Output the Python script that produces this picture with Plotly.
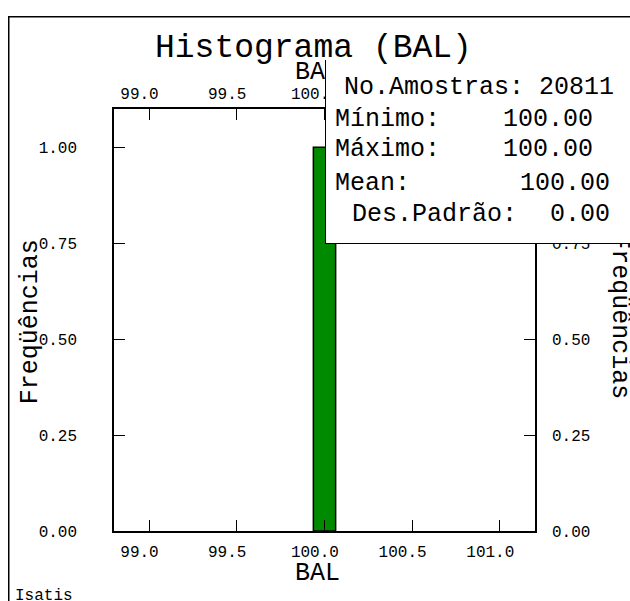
import plotly.graph_objects as go

# ---- data ----
bin_centers = [100.0]
frequencies = [1.0]
bin_width = 0.127
x_ticks = [99.0, 99.5, 100.0, 100.5, 101.0]
y_ticks = [0.0, 0.25, 0.5, 0.75, 1.0]
stats_labels = ["Mínimo:", "Máximo:", "Mean:", "Des.Padrão:"]
stats_values = ["100.00", "100.00", "100.00", "0.00"]
n_samples = 20811
variable = "BAL"

W, H = 630, 601
L, R, T, B = 114, 535, 108.5, 531
FONT = "Liberation Mono"
NB = "\u00a0"


def xp(px):
    return (px - L) / (R - L)


def yp(py):
    return (B - py) / (B - T)


x_ticktext = [f"{v:.1f}" + NB * 2 for v in x_ticks]
y_ticktext = [f"{v:.2f}" for v in y_ticks]

fig = go.Figure()
fig.add_trace(go.Bar(
    x=bin_centers, y=frequencies, width=bin_width,
    marker=dict(color="#008a00", line=dict(color="black", width=1.5)),
    showlegend=False, hoverinfo="skip",
))
fig.add_trace(go.Scatter(x=[], y=[], xaxis="x2", yaxis="y2", showlegend=False))

axis_common = dict(
    showgrid=False, zeroline=False, showline=True, linecolor="black",
    linewidth=1.5, ticks="inside", ticklen=11, tickwidth=1.2,
    tickcolor="black", tickfont=dict(family=FONT, size=16, color="black"),
)

fig.update_layout(
    width=W, height=H,
    margin=dict(l=L, r=W - R, t=T, b=H - B, pad=0),
    paper_bgcolor="white", plot_bgcolor="white",
    showlegend=False,
    xaxis=dict(range=[98.8, 101.2], tickmode="array", tickvals=x_ticks,
               ticktext=x_ticktext, ticklabelstandoff=5, **axis_common),
    xaxis2=dict(range=[98.8, 101.2], overlaying="x", side="top", matches="x",
                tickmode="array", tickvals=x_ticks, ticktext=x_ticktext,
                ticklabelstandoff=2, anchor="y", **axis_common),
    yaxis=dict(range=[0, 1.1], tickmode="array", tickvals=y_ticks,
               ticktext=y_ticktext, ticklabelstandoff=32, **axis_common),
    yaxis2=dict(range=[0, 1.1], overlaying="y", side="right", matches="y",
                tickmode="array", tickvals=y_ticks, ticktext=y_ticktext,
                ticklabelstandoff=12, anchor="x", **axis_common),
)

ann = []
# items later hidden partly by the statistics box
ann.append(dict(text="Freqüências", x=xp(620), y=yp(316), textangle=90,
                font=dict(family=FONT, size=25, color="black")))
ann.append(dict(text=variable, x=xp(317), y=yp(72),
                font=dict(family=FONT, size=25, color="black")))
# statistics box (white, covers the top-right region)
box_top, box_bottom, box_left = 60, 243, 325
ann.append(dict(text=NB, x=xp(box_left), y=yp(box_bottom), xanchor="left",
                yanchor="bottom", width=420, height=box_bottom - box_top,
                bgcolor="white", bordercolor="rgba(0,0,0,0)", borderwidth=0,
                borderpad=0, font=dict(size=8)))
# box left edge and bottom edge
ann.append(dict(text=NB, x=xp(box_left), y=yp(box_bottom), xanchor="center",
                yanchor="bottom", width=1, height=box_bottom - box_top,
                bgcolor="black", borderwidth=0, borderpad=0, font=dict(size=1)))
ann.append(dict(text=NB, x=xp(box_left - 0.5), y=yp(box_bottom), xanchor="left",
                yanchor="middle", width=420, height=1,
                bgcolor="black", borderwidth=0, borderpad=0, font=dict(size=1)))
# outer frame
ann.append(dict(text=NB, x=xp(8), y=yp(15.5), xanchor="left", yanchor="top",
                width=800, height=800, bgcolor="rgba(0,0,0,0)",
                bordercolor="black", borderwidth=1.5, borderpad=0,
                font=dict(size=10)))
# title
ann.append(dict(text=f"Histograma ({variable})", x=xp(313.5), y=yp(48),
                font=dict(family=FONT, size=33, color="black")))
# statistics text
ann.append(dict(text=f"No.Amostras: {n_samples}", x=xp(341.7), y=yp(87),
                xanchor="left", font=dict(family=FONT, size=25, color="black")))
label_x = [333.3, 333.3, 333.3, 350]
value_xr = [595, 595, 611.7, 611.7]
row_y = [119.3, 149.3, 182.7, 214]
for lab, val, lx, vx, ry in zip(stats_labels, stats_values, label_x, value_xr, row_y):
    ann.append(dict(text=lab, x=xp(lx), y=yp(ry), xanchor="left",
                    font=dict(family=FONT, size=25, color="black")))
    ann.append(dict(text=val, x=xp(vx), y=yp(ry), xanchor="right",
                    font=dict(family=FONT, size=25, color="black")))
# axis titles
ann.append(dict(text=variable, x=xp(317.4), y=yp(574),
                font=dict(family=FONT, size=25, color="black")))
ann.append(dict(text="Freqüências", x=xp(30), y=yp(322), textangle=-90,
                font=dict(family=FONT, size=25, color="black")))
ann.append(dict(text="Isatis", x=xp(13), y=yp(596), xanchor="left",
                font=dict(family=FONT, size=16, color="black")))

for a in ann:
    a.setdefault("xref", "paper")
    a.setdefault("yref", "paper")
    a.setdefault("showarrow", False)
    a.setdefault("xanchor", "center")
    a.setdefault("yanchor", "middle")
fig.update_layout(annotations=ann)

fig.write_html("out.html")
